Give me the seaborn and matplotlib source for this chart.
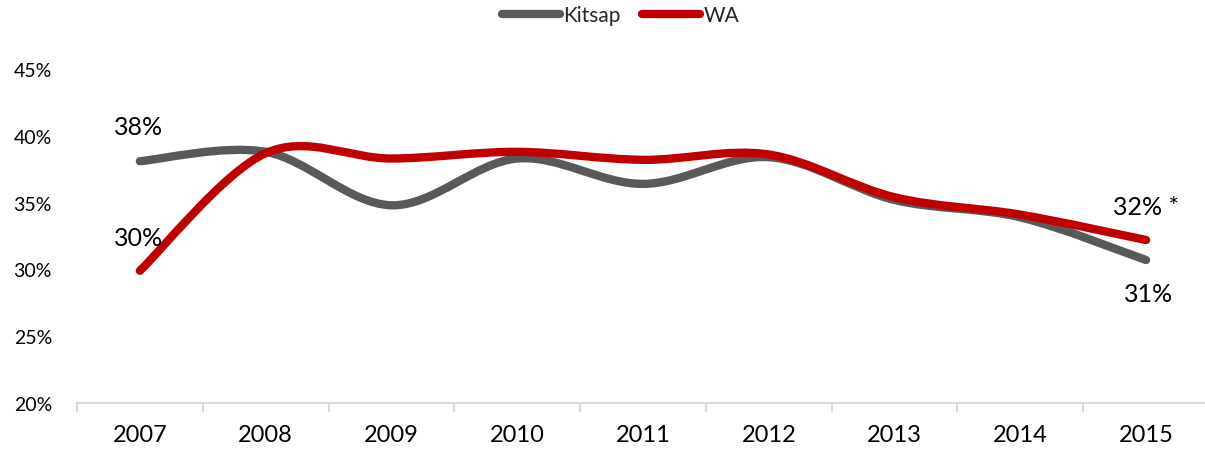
import matplotlib
matplotlib.use("Agg")
import matplotlib.pyplot as plt
from matplotlib.path import Path
from matplotlib.patches import PathPatch
from matplotlib.lines import Line2D
from matplotlib.ticker import FuncFormatter
import seaborn as sns

years = ["2007", "2008", "2009", "2010", "2011", "2012", "2013", "2014", "2015"]
kitsap = [38.1, 38.8, 34.8, 38.3, 36.4, 38.4, 35.2, 33.9, 30.7]
wa = [29.9, 38.7, 38.3, 38.8, 38.2, 38.6, 35.4, 34.1, 32.2]

GRAY = "#595959"
RED = "#C00000"
AXIS = "#D9D9D9"

sns.set_theme(style="white")
plt.rcParams["font.family"] = ["Lato", "DejaVu Sans"]


def smooth_path(xs, ys):
    # Excel-style smoothed line: cubic Bezier through every point
    verts = [(xs[0], ys[0])]
    codes = [Path.MOVETO]
    n = len(xs)
    for i in range(n - 1):
        x0, y0 = (xs[i - 1], ys[i - 1]) if i > 0 else (xs[i], ys[i])
        x1, y1 = xs[i], ys[i]
        x2, y2 = xs[i + 1], ys[i + 1]
        x3, y3 = (xs[i + 2], ys[i + 2]) if i + 2 < n else (x2, y2)
        c1 = (x1 + (x2 - x0) / 6, y1 + (y2 - y0) / 6)
        c2 = (x2 - (x3 - x1) / 6, y2 - (y3 - y1) / 6)
        verts += [c1, c2, (x2, y2)]
        codes += [Path.CURVE4] * 3
    return Path(verts, codes)


fig = plt.figure(figsize=(12.05, 4.56), dpi=100)
ax = fig.add_axes([0.0639, 0.114, 0.9394, 0.7325])

xs = list(range(len(years)))
for vals, color in [(kitsap, GRAY), (wa, RED)]:
    patch = PathPatch(smooth_path(xs, vals), facecolor="none", edgecolor=color,
                      linewidth=6, capstyle="round", joinstyle="round", zorder=3)
    ax.add_patch(patch)

ax.set_xlim(-0.5, len(years) - 0.5)
ax.set_ylim(20, 45)
ax.set_yticks([20, 25, 30, 35, 40, 45])
ax.yaxis.set_major_formatter(FuncFormatter(lambda v, p: f"{v:.0f}%"))
ax.set_xticks(xs)
ax.set_xticklabels(years)
ax.set_xticks([x - 0.5 for x in xs] + [len(years) - 0.5], minor=True)

ax.tick_params(axis="y", length=0, pad=18, labelsize=14, labelcolor="black")
ax.tick_params(axis="x", which="major", bottom=True, length=0, pad=15, labelsize=17,
               labelcolor="black")
ax.tick_params(axis="x", which="minor", bottom=True, length=6.5, width=1.5, color=AXIS,
               direction="out")

sns.despine(ax=ax, left=True)
ax.spines["bottom"].set_color(AXIS)
ax.spines["bottom"].set_linewidth(1.5)
ax.grid(False)

# data labels
lab = dict(textcoords="offset points", ha="center", va="center", fontsize=18, color="black")
ax.annotate("38%", (0, kitsap[0]), xytext=(-1, 25), **lab)
ax.annotate("30%", (0, wa[0]), xytext=(-1, 24), **lab)
ax.annotate("32% *", (8, wa[-1]), xytext=(0, 24), **lab)
ax.annotate("31%", (8, kitsap[-1]), xytext=(2, -24), **lab)

handles = [Line2D([], [], color=GRAY, linewidth=6, solid_capstyle="round"),
           Line2D([], [], color=RED, linewidth=6, solid_capstyle="round")]
fig.legend(handles, ["Kitsap", "WA"], loc="center", bbox_to_anchor=(0.515, 0.965),
           ncol=2, frameon=False, fontsize=15, handlelength=2.8, handletextpad=0.15,
           columnspacing=1.0)

fig.savefig("out.png", dpi=100)
